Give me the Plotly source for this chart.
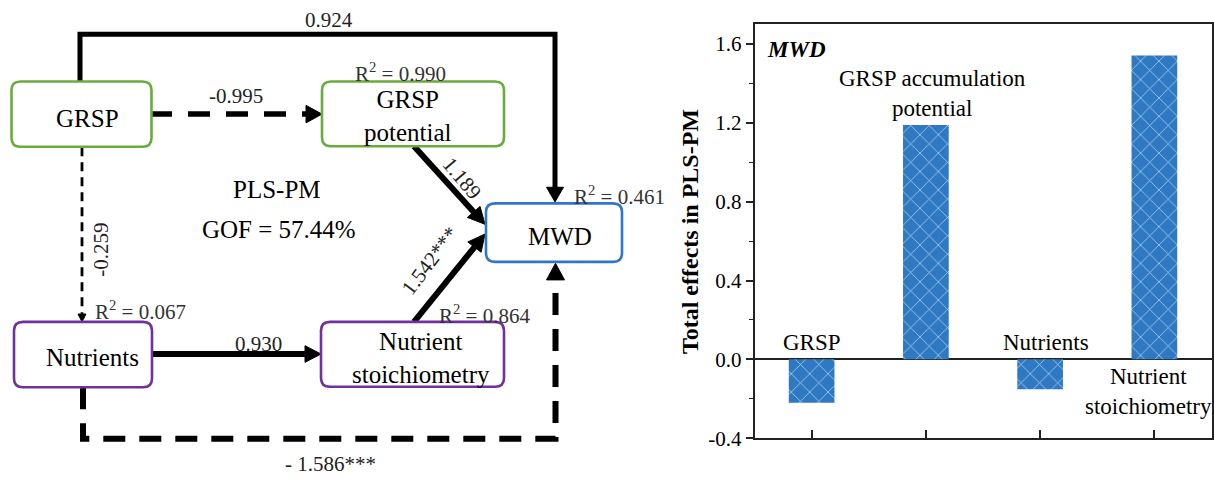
import plotly.graph_objects as go

# ---------------- data ----------------
categories = ["GRSP", "GRSP accumulation<br>potential", "Nutrients", "Nutrient<br>stoichiometry"]
total_effects = [-0.22, 1.189, -0.152, 1.542]
ytick_vals = [-0.4, 0.0, 0.4, 0.8, 1.2, 1.6]
ytick_text = ["-0.4", "0.0", "0.4", "0.8", "1.2", "1.6"]

node_names = ["GRSP", "GRSP<br>potential", "MWD", "Nutrients", "Nutrient<br>stoichiometry"]
r2_labels = ["R<sup>2</sup> = 0.990", "R<sup>2</sup> = 0.461",
             "R<sup>2</sup> = 0.067", "R<sup>2</sup> = 0.864"]
path_coefs = ["0.924", "-0.995", "1.189", "-0.259", "1.542***", "0.930", "- 1.586***"]
model_labels = ["PLS-PM", "GOF = 57.44%"]

# ---------------- style ----------------
FONT = "Liberation Serif"
BLUE_BAR = "#2f78c2"
GREEN = "#6aab3c"
PURPLE = "#7030a0"
BOXBLUE = "#2f75cf"
W, H = 1214, 485

fig = go.Figure()
xs = list(range(1, len(categories) + 1))
fig.add_trace(go.Bar(
    x=xs, y=total_effects, width=0.4,
    marker=dict(color=BLUE_BAR, line=dict(width=0),
                pattern=dict(shape="x", size=13, solidity=0.12,
                             fgcolor="#a8d0f2", bgcolor=BLUE_BAR, fgopacity=1)),
    hoverinfo="skip", showlegend=False,
))

shapes = []
annotations = []


def rbox(x0, y0, x1, y1, color, r=9, w=2.6):
    p = (f"M {x0+r},{y0} L {x1-r},{y0} Q {x1},{y0} {x1},{y0+r} "
         f"L {x1},{y1-r} Q {x1},{y1} {x1-r},{y1} L {x0+r},{y1} "
         f"Q {x0},{y1} {x0},{y1-r} L {x0},{y0+r} Q {x0},{y0} {x0+r},{y0} Z")
    shapes.append(dict(type="path", path=p, xref="x2", yref="y2",
                       line=dict(color=color, width=w), fillcolor="white", layer="above"))


def poly(pts, w, dash="solid"):
    p = "M " + " L ".join(f"{x},{y}" for x, y in pts)
    shapes.append(dict(type="path", path=p, xref="x2", yref="y2",
                       line=dict(color="black", width=w, dash=dash), layer="above"))


def head(tip, frm, length, half):
    tx, ty = tip
    fx, fy = frm
    dx, dy = tx - fx, ty - fy
    n = (dx * dx + dy * dy) ** 0.5
    ux, uy = dx / n, dy / n
    bx, by = tx - ux * length, ty - uy * length
    px, py = -uy, ux
    p = (f"M {tx},{ty} L {bx+px*half},{by+py*half} "
         f"L {bx-px*half},{by-py*half} Z")
    shapes.append(dict(type="path", path=p, xref="x2", yref="y2",
                       line=dict(color="black", width=1), fillcolor="black", layer="above"))
    return bx, by


def arrow(frm, tip, w, dash="solid", length=16, half=8.5):
    bx, by = head(tip, frm, length, half)
    poly([frm, (bx, by)], w, dash)


def text(x, y, s, size=22, color="black", angle=0, xanchor="center", bold=False, italic=False):
    if bold:
        s = f"<b>{s}</b>"
    if italic:
        s = f"<i>{s}</i>"
    annotations.append(dict(x=x, y=y, xref="x2", yref="y2", text=s, showarrow=False,
                            textangle=angle, xanchor=xanchor, yanchor="middle",
                            font=dict(family=FONT, size=size, color=color)))


# ---------------- path diagram ----------------
poly([(80, 84), (80, 35), (555, 35), (555, 193)], 5)
head((555, 207), (555, 190), 15, 8.5)
arrow((150, 117), (322, 117), 5.5, dash="22px,16px", length=16, half=9)
arrow((82, 151), (82, 330), 2.8, dash="9px,6px", length=8, half=4)
arrow((414, 150), (485, 230), 6, length=17, half=8.5)
arrow((414, 330), (485, 240), 6, length=17, half=8.5)
arrow((152, 363), (321, 363), 6, length=16, half=8.5)
poly([(83, 397), (83, 450), (555.5, 450), (555.5, 287)], 6, dash="22px,14px")
head((555.5, 270), (555.5, 290), 17, 9)

rbox(11.5, 83.5, 151.5, 150.5, GREEN)
rbox(322, 83.5, 504, 150, GREEN)
rbox(486, 208.5, 622, 268.5, BOXBLUE)
rbox(14, 330, 152, 397, PURPLE)
rbox(321, 330, 504, 396.5, PURPLE)

node_pos = [(87, 121), (408, 119), (560, 243), (92, 367), (421, 367)]
for (nx, ny), name in zip(node_pos, node_names):
    text(nx, ny, name, size=25)

r2_pos = [(400, 74, "center"), (572, 200, "left"), (93, 318, "left"), (437, 322, "left")]
for (rx, ry, xa), lab in zip(r2_pos, r2_labels):
    text(rx, ry, lab, size=21, color="#333333", xanchor=xa)

coef_pos = [(329, 20, 0), (236, 98, 0), (462, 182, 50), (101, 256, -90),
            (430, 268, -53), (258, 353, 0), (330, 476, 0)]
for (cx, cy, ang), lab in zip(coef_pos, path_coefs):
    text(cx, cy, lab, size=21, color="#222222", angle=ang)

text(277, 194, model_labels[0], size=25)
text(279, 235, model_labels[1], size=25)

# ---------------- bar chart labels ----------------
label_cfg = [("bottom", 0, 2), ("bottom", 7, 2), ("bottom", 6, 2), ("top", -6, -3)]
for x, v, lab, (ya, xsh, ysh) in zip(xs, total_effects, categories, label_cfg):
    yy = 0 if v < 0 or ya == "top" else v
    annotations.append(dict(x=x, y=yy, xref="x", yref="y", text=lab, showarrow=False,
                            xanchor="center", yanchor=ya, xshift=xsh, yshift=ysh,
                            font=dict(family=FONT, size=23, color="black")))

text(765, 51, "MWD", size=23, xanchor="left", bold=True, italic=True)
text(690, 238, "Total effects in PLS-PM", size=24, angle=-90, bold=True)

fig.update_layout(
    width=W, height=H, autosize=False,
    margin=dict(l=0, r=0, t=0, b=0, pad=0),
    paper_bgcolor="white", plot_bgcolor="rgba(0,0,0,0)",
    showlegend=False,
    shapes=shapes, annotations=annotations,
    xaxis=dict(domain=[754.5 / W, 1211.5 / W], range=[0.5, 4.5], anchor="y",
               tickvals=xs, showticklabels=False, ticks="inside", ticklen=8,
               tickwidth=1.5, tickcolor="#222", showline=True, linecolor="#222",
               linewidth=1.5, mirror=True, showgrid=False, zeroline=False, fixedrange=True),
    yaxis=dict(domain=[(H - 449.3) / H, (H - 25) / H], range=[-0.4, 1.7], anchor="x",
               tickvals=ytick_vals, ticktext=ytick_text, ticks="outside", ticklen=7,
               tickwidth=1.5, tickcolor="#222", showline=True, linecolor="#222",
               linewidth=1.5, mirror=True, showgrid=False,
               zeroline=True, zerolinecolor="#222", zerolinewidth=1.5,
               tickfont=dict(family=FONT, size=21, color="black"),
               minor=dict(dtick=0.2, tick0=0, ticks="outside", ticklen=4,
                          tickwidth=1.2, tickcolor="#222"),
               fixedrange=True),
    xaxis2=dict(domain=[0, 1], range=[0, W], anchor="y2", visible=False, fixedrange=True),
    yaxis2=dict(domain=[0, 1], range=[H, 0], anchor="x2", visible=False, fixedrange=True),
)

fig.write_html("out.html")
